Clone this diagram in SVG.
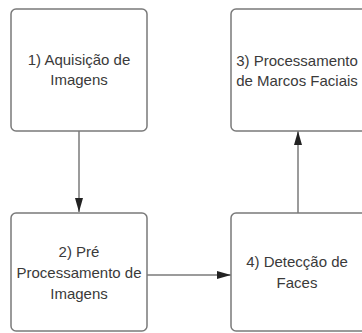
<svg xmlns="http://www.w3.org/2000/svg" width="362" height="333" viewBox="0 0 362 333">
<style>
.box{fill:#ffffff;stroke:#7a7a7a;stroke-width:1.5}
.lbl{font-family:"Liberation Sans",Arial,sans-serif;font-size:15px;fill:#3a3a3a;text-anchor:middle}
.con{fill:none;stroke:#7a7a7a;stroke-width:1.5}
</style>
<defs>
<marker id="ah" markerWidth="14" markerHeight="8" refX="14" refY="4" orient="auto" markerUnits="userSpaceOnUse" viewBox="0 0 14 8">
<path d="M0,0 L14,4 L0,8 Z" fill="#222"/>
</marker>
</defs>
<g id="connectors">
<line class="con" x1="79" y1="131" x2="79" y2="212" marker-end="url(#ah)"/>
<line class="con" x1="147" y1="275" x2="231" y2="275" marker-end="url(#ah)"/>
<line class="con" x1="298" y1="213" x2="298" y2="131" marker-end="url(#ah)"/>
</g>
<g id="n1">
<rect class="box" x="11" y="9" width="136" height="122" rx="5"/>
<text class="lbl" x="79" y="65">1) Aquisição de</text>
<text class="lbl" x="79" y="85">Imagens</text>
</g>
<g id="n2">
<rect class="box" x="11" y="213" width="136" height="118" rx="5"/>
<text class="lbl" x="79" y="257">2) Pré</text>
<text class="lbl" x="79" y="278">Processamento de</text>
<text class="lbl" x="79" y="299">Imagens</text>
</g>
<g id="n3">
<rect class="box" x="231" y="9" width="135" height="122" rx="5"/>
<text class="lbl" x="297" y="66">3) Processamento</text>
<text class="lbl" x="297" y="86">de Marcos Faciais</text>
</g>
<g id="n4">
<rect class="box" x="231" y="213" width="135" height="118" rx="5"/>
<text class="lbl" x="297" y="267">4) Detecção de</text>
<text class="lbl" x="297" y="288">Faces</text>
</g>
</svg>
